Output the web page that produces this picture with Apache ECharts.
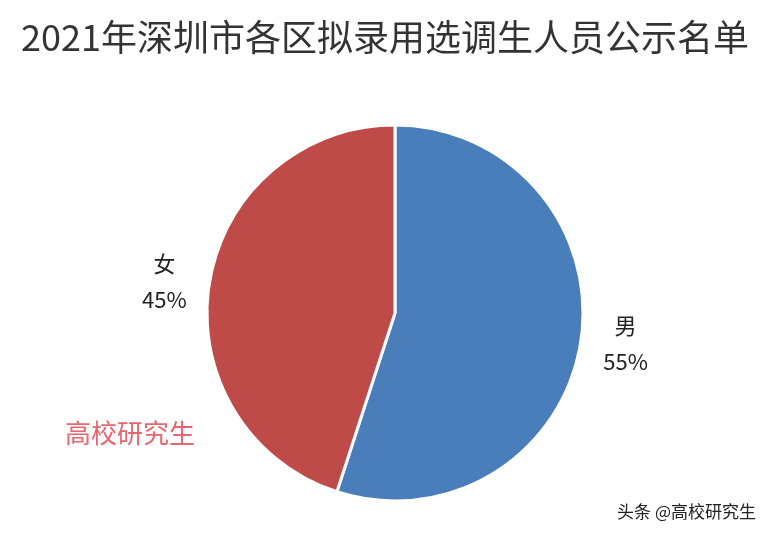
<!DOCTYPE html>
<html>
<head>
<meta charset="utf-8">
<script src="https://cdn.jsdelivr.net/npm/echarts@6/dist/echarts.min.js"></script>
<style>html,body{margin:0;padding:0;background:#fff}#c{width:770px;height:538px}</style>
</head>
<body>
<div id="c"></div>
<script>
var categories = ['男', '女'];
var values = [55, 45];
var colors = ['#4a7ebb', '#be4b48'];

var chart = echarts.init(document.getElementById('c'));
chart.setOption({
	title: {
		text: '2021年深圳市各区拟录用选调生人员公示名单',
		left: 'center',
		top: 14,
		textStyle: { fontFamily: 'Noto Sans CJK SC', fontSize: 36, fontWeight: 'normal', color: '#333' }
	},
	graphic: [
		{ type: 'text', left: 65, top: 420, style: { text: '高校研究生', fontFamily: 'Noto Sans CJK SC', fontSize: 26, fill: '#e24a55', opacity: 0.85 } },
		{ type: 'text', right: 14, top: 503, style: { text: '头条 @高校研究生', fontFamily: 'Noto Sans CJK SC', fontSize: 17, fill: '#222' } }
	],
	series: [{
		type: 'pie',
		center: [395, 313],
		radius: 188,
		startAngle: 90,
		clockwise: true,
		silent: true,
		itemStyle: { borderColor: '#fff', borderWidth: 3 },
		label: {
			position: 'outside',
			formatter: '{a|{b}}\n{a|{d}%}',
			color: '#222',
			rich: {
				a: { fontFamily: 'Noto Sans CJK SC', fontSize: 22, lineHeight: 36, color: '#222', width: 60, align: 'center' }
			}
		},
		labelLine: { show: false, length: 10, length2: 0 },
		data: categories.map(function (c, i) {
			return { name: c, value: values[i], itemStyle: { color: colors[i] } };
		})
	}]
});
</script>
</body>
</html>
